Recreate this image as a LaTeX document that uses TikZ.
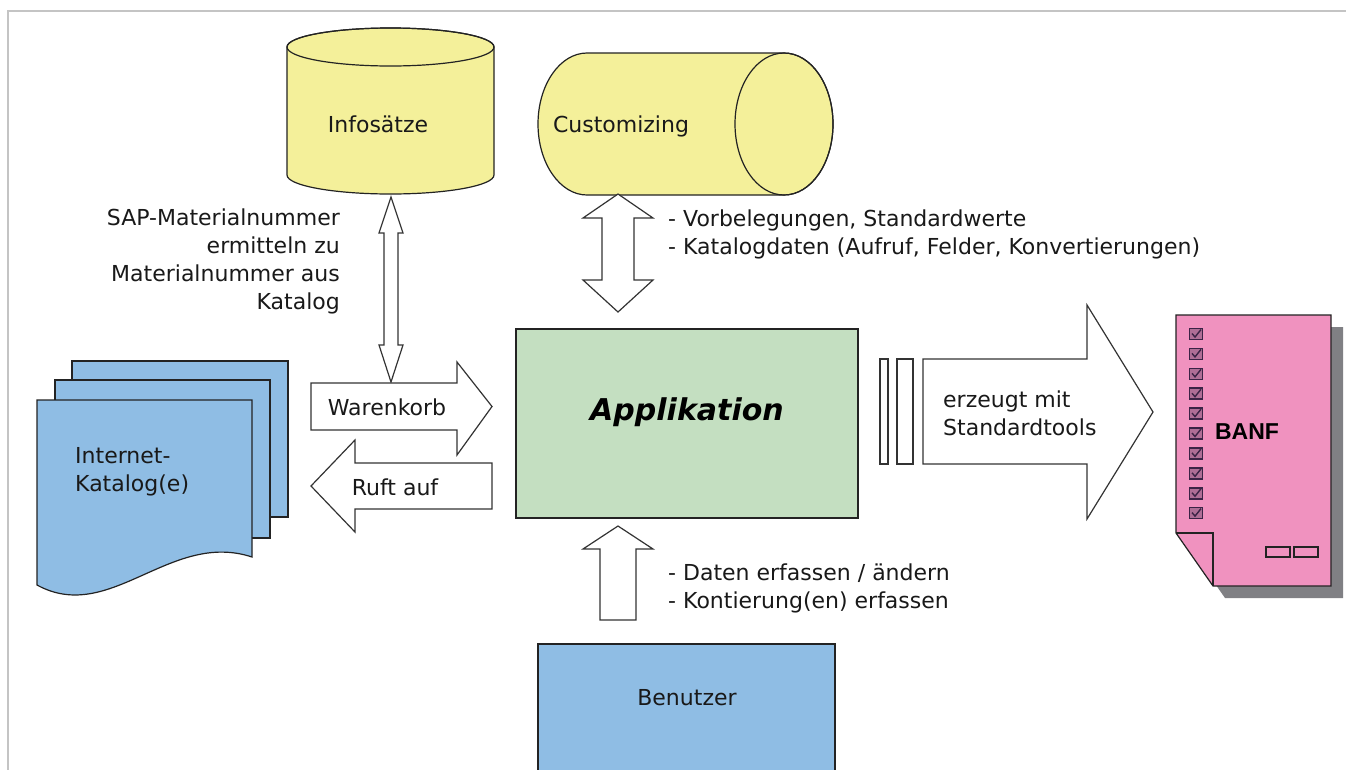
\documentclass[tikz,border=0pt]{standalone}
\usepackage{fontspec}
\setmainfont{DejaVu Sans}
\newfontfamily\banffont{Liberation Sans}
\definecolor{cyl}{RGB}{244,240,154}
\definecolor{appgreen}{RGB}{196,223,193}
\definecolor{docblue}{RGB}{143,189,228}
\definecolor{banfpink}{RGB}{240,146,191}
\definecolor{shadowgray}{RGB}{128,128,132}
\definecolor{framegray}{RGB}{196,196,196}
\definecolor{edge}{RGB}{35,35,35}
\definecolor{boxedge}{RGB}{60,35,70}
\definecolor{boxfill}{RGB}{175,110,150}
\begin{document}
\begin{tikzpicture}[x=1pt,y=-1pt,
  shapeline/.style={draw=edge, line width=1.2pt},
  blockarrow/.style={draw=black!80, line width=1.2pt, fill=white, line join=miter},
  lbl/.style={font=\fontsize{22}{28}\selectfont, inner sep=0pt, text=black!90},
]
\useasboundingbox (0,0) rectangle (1346,769);
\clip (0,0) rectangle (1346,769);
\fill[white] (0,0) rectangle (1346,769);
% frame
\draw[framegray, line width=2pt] (7.5,780) -- (7.5,11) -- (1350,11);

% Infosaetze cylinder
\path[fill=cyl, shapeline] (287,47) -- (287,175) arc[start angle=180, end angle=360, x radius=103.5pt, y radius=19pt] -- (494,47) arc[start angle=0, end angle=180, x radius=103.5pt, y radius=19pt] -- cycle;
\draw[shapeline] (390.5,47) ellipse[x radius=103.5pt, y radius=19pt];
\node[lbl] (info) at (378,124) {Infosätze};

% Customizing cylinder
\path[fill=cyl, shapeline] (784,53) -- (587,53) arc[start angle=90, end angle=270, x radius=49pt, y radius=71pt] -- (784,195) arc[start angle=-90, end angle=90, x radius=49pt, y radius=71pt] -- cycle;
\draw[shapeline] (784,124) ellipse[x radius=49pt, y radius=71pt];
\node[lbl] (cust) at (621,126) {Customizing};

% double arrow Infosaetze <-> Warenkorb
\draw[blockarrow] (391,197) -- (403,233) -- (398,233) -- (398,345) -- (403,345) -- (391,382) -- (379,345) -- (384,345) -- (384,233) -- (379,233) -- cycle;
\node[lbl, align=right, anchor=east] (infonote) at (340,261) {SAP-Materialnummer\\ermitteln zu\\Materialnummer aus\\Katalog};

% double arrow Customizing <-> Applikation
\draw[blockarrow] (618,194) -- (653,218) -- (634,218) -- (634,280) -- (653,280) -- (618,312) -- (583,280) -- (602,280) -- (602,218) -- (583,218) -- cycle;
\node[lbl, align=left, anchor=west] (custnote) at (668,234) {- Vorbelegungen, Standardwerte\\- Katalogdaten (Aufruf, Felder, Konvertierungen)};

% Internet-Katalog stack
\draw[fill=docblue, shapeline] (72,361) rectangle (288,517);
\draw[fill=docblue, shapeline] (55,380) rectangle (270,538);
\draw[fill=docblue, shapeline] (37,400) -- (252,400) -- (252,557) .. controls (170,530) and (110,625) .. (37,585) -- cycle;
\node[lbl, align=left, anchor=west] (katalog) at (75,472) {Internet-\\Katalog(e)};

% Warenkorb arrow
\draw[blockarrow] (311,383) -- (457,383) -- (457,362) -- (492,406.5) -- (457,455) -- (457,430) -- (311,430) -- cycle;
\node[lbl] (waren) at (387,407) {Warenkorb};

% Ruft auf arrow
\draw[blockarrow] (492,463) -- (355,463) -- (355,440) -- (311,486) -- (355,532) -- (355,509) -- (492,509) -- cycle;
\node[lbl] (ruft) at (395,487) {Ruft auf};

% Applikation
\draw[fill=appgreen, shapeline] (516,329) rectangle (858,518);
\node[font=\fontsize{30}{34}\selectfont\bfseries\itshape, inner sep=0pt] (app) at (687,412) {Applikation};

% up arrow from Benutzer
\draw[blockarrow] (618,526) -- (653,549) -- (636,549) -- (636,620) -- (600,620) -- (600,549) -- (583,549) -- cycle;
\node[lbl, align=left, anchor=west] (bennote) at (668,588) {- Daten erfassen / ändern\\- Kontierung(en) erfassen};

% Benutzer
\draw[fill=docblue, shapeline] (538,780) -- (538,644) -- (835,644) -- (835,780);
\node[lbl] (benutzer) at (687,698) {Benutzer};

% big arrow to BANF
\draw[blockarrow] (880,359) rectangle (888,464);
\draw[blockarrow] (897,359) rectangle (913,464);
\draw[blockarrow] (923,359) -- (1087,359) -- (1087,305) -- (1153,412) -- (1087,519) -- (1087,464) -- (923,464) -- cycle;
\node[lbl, align=left, anchor=west] (erzeugt) at (943,413) {erzeugt mit\\Standardtools};

% BANF document
\fill[shadowgray] (1188,327) -- (1343,327) -- (1343,598) -- (1225,598) -- (1188,545) -- cycle;
\draw[fill=banfpink, shapeline] (1176,315) -- (1331,315) -- (1331,586) -- (1213,586) -- (1176,533) -- cycle;
\draw[shapeline] (1176,533) -- (1213,533) -- (1213,586);
\foreach \i in {0,...,9} {
  \pgfmathsetmacro\yy{334+19.9*\i}
  \draw[boxedge, line width=1.6pt, fill=boxfill] (1189.5,\yy-5.5) rectangle (1202.5,\yy+5.5);
  \draw[boxedge, line width=1.4pt] (1192,\yy-0.5) -- (1195,\yy+3) -- (1201,\yy-4.5);
}
\draw[edge, line width=1.3pt] (1266,547) rectangle (1290,557);
\draw[edge, line width=1.3pt] (1294,547) rectangle (1318,557);
\node[font=\banffont\bfseries\fontsize{23}{26}\selectfont, inner sep=0pt] (banf) at (1247,432) {BANF};
\end{tikzpicture}
\end{document}
